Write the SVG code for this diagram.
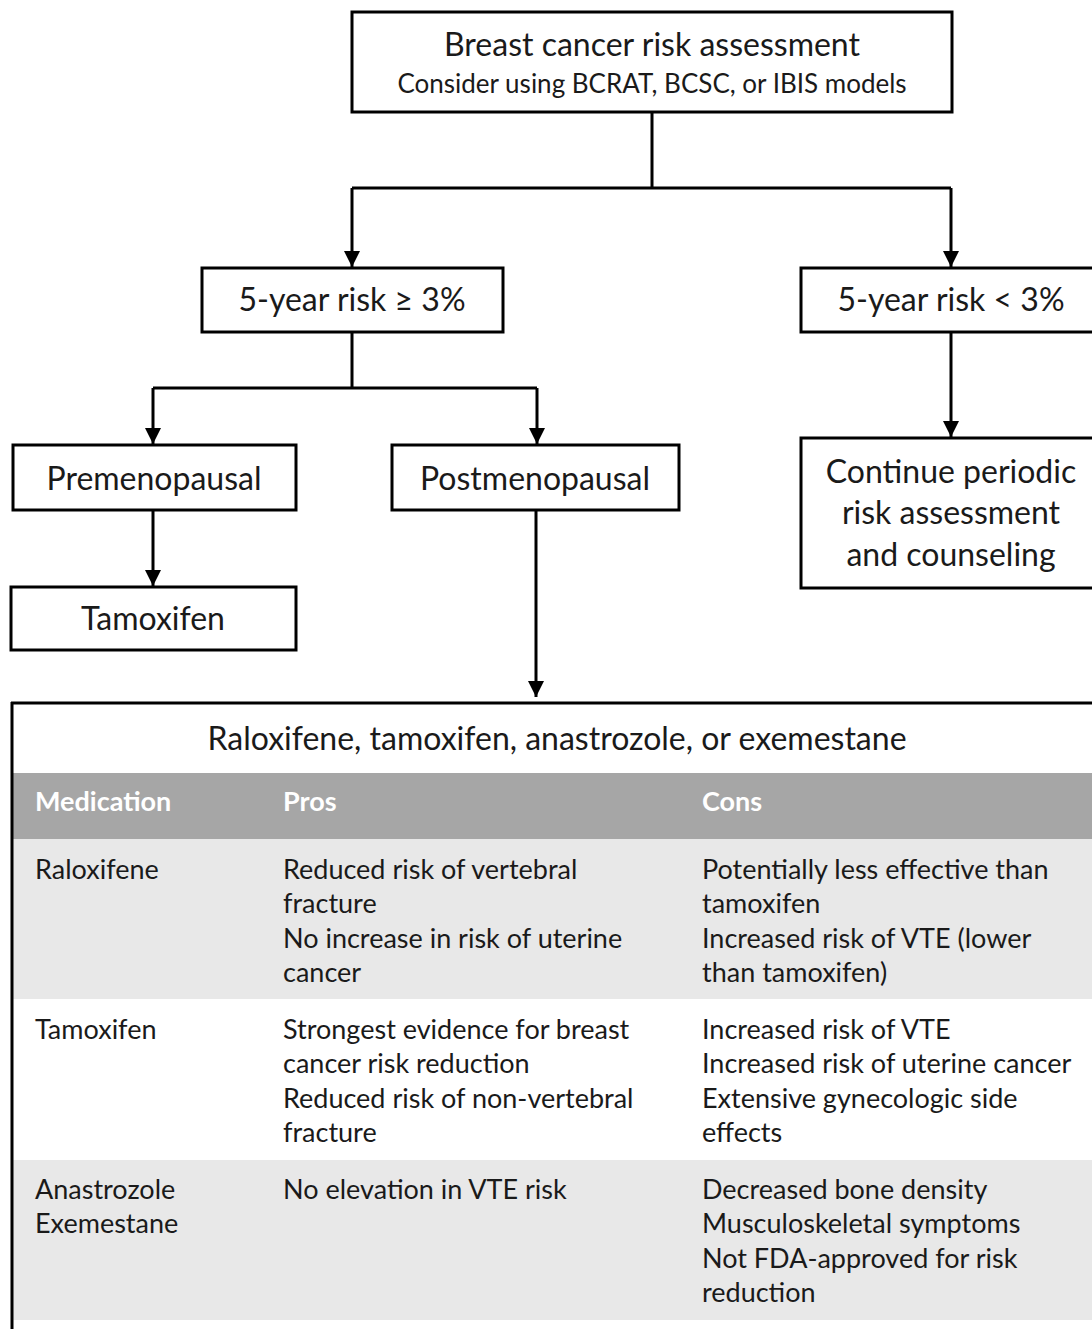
<svg xmlns="http://www.w3.org/2000/svg" width="1092" height="1329" viewBox="0 0 1092 1329">
<style>
.box{fill:#fff;stroke:#000;stroke-width:3}
.t{font-family:Lato,"Open Sans",sans-serif;fill:#1a1a1a}
.big{font-size:32px}
.mid{font-size:26px}
.cell{font-size:27px}
.hdr{font-size:27px;font-weight:bold;fill:#fff}
.conn{fill:none;stroke:#000;stroke-width:3}
</style>
<defs>
<marker id="ah" markerUnits="userSpaceOnUse" markerWidth="16" markerHeight="16" viewBox="0 0 16 16" refX="16" refY="8" orient="auto">
<path d="M0,0 L16,8 L0,16 Z" fill="#000"/>
</marker>
</defs>
<rect width="1092" height="1329" fill="#fff"/>
<g id="connectors">
<path class="conn" d="M652,112 V188 M352,188 H951"/>
<path class="conn" d="M352,188 V267" marker-end="url(#ah)"/>
<path class="conn" d="M951,188 V267" marker-end="url(#ah)"/>
<path class="conn" d="M352,332 V388 M153,388 H537"/>
<path class="conn" d="M153,388 V444" marker-end="url(#ah)"/>
<path class="conn" d="M537,388 V444" marker-end="url(#ah)"/>
<path class="conn" d="M153,510 V586" marker-end="url(#ah)"/>
<path class="conn" d="M536,510 V697" marker-end="url(#ah)"/>
<path class="conn" d="M951,332 V437" marker-end="url(#ah)"/>
</g>
<g id="assessment">
<rect class="box" x="352" y="12" width="600" height="100"/>
<text class="t big" x="652" y="56" text-anchor="middle">Breast cancer risk assessment</text>
<text class="t mid" x="652" y="93" text-anchor="middle">Consider using BCRAT, BCSC, or IBIS models</text>
</g>
<g id="high-risk">
<rect class="box" x="202" y="268" width="301" height="64"/>
<text class="t big" x="352" y="311" text-anchor="middle">5-year risk ≥ 3%</text>
</g>
<g id="low-risk">
<rect class="box" x="801" y="268" width="300" height="64"/>
<text class="t big" x="951" y="311" text-anchor="middle">5-year risk &lt; 3%</text>
</g>
<g id="premenopausal">
<rect class="box" x="13" y="445" width="283" height="65"/>
<text class="t big" x="154" y="490" text-anchor="middle">Premenopausal</text>
</g>
<g id="postmenopausal">
<rect class="box" x="392" y="445" width="287" height="65"/>
<text class="t big" x="535" y="490" text-anchor="middle">Postmenopausal</text>
</g>
<g id="tamoxifen">
<rect class="box" x="11" y="587" width="285" height="63"/>
<text class="t big" x="153" y="630" text-anchor="middle">Tamoxifen</text>
</g>
<g id="continue">
<rect class="box" x="801" y="438" width="300" height="150"/>
<text class="t big" x="951" y="483" text-anchor="middle">Continue periodic</text>
<text class="t big" x="951" y="524" text-anchor="middle">risk assessment</text>
<text class="t big" x="951" y="566" text-anchor="middle">and counseling</text>
</g>
<g id="table">
<rect x="13" y="773" width="1079" height="66" fill="#a6a6a6"/>
<rect x="13" y="839" width="1079" height="160" fill="#e8e8e8"/>
<rect x="13" y="1160" width="1079" height="160" fill="#e8e8e8"/>
<path d="M11,703 H1092 M12,702 V1329" fill="none" stroke="#000" stroke-width="3"/>
<text class="t big" x="557" y="750" text-anchor="middle">Raloxifene, tamoxifen, anastrozole, or exemestane</text>
<text class="t hdr" x="35" y="811">Medication</text>
<text class="t hdr" x="283" y="811">Pros</text>
<text class="t hdr" x="702" y="811">Cons</text>
<text class="t cell" x="35" y="879">Raloxifene</text>
<text class="t cell" x="283" y="879">Reduced risk of vertebral</text>
<text class="t cell" x="283" y="913">fracture</text>
<text class="t cell" x="283" y="948">No increase in risk of uterine</text>
<text class="t cell" x="283" y="982">cancer</text>
<text class="t cell" x="702" y="879">Potentially less effective than</text>
<text class="t cell" x="702" y="913">tamoxifen</text>
<text class="t cell" x="702" y="948">Increased risk of VTE (lower</text>
<text class="t cell" x="702" y="982">than tamoxifen)</text>
<text class="t cell" x="35" y="1039">Tamoxifen</text>
<text class="t cell" x="283" y="1039">Strongest evidence for breast</text>
<text class="t cell" x="283" y="1073">cancer risk reduction</text>
<text class="t cell" x="283" y="1108">Reduced risk of non-vertebral</text>
<text class="t cell" x="283" y="1142">fracture</text>
<text class="t cell" x="702" y="1039">Increased risk of VTE</text>
<text class="t cell" x="702" y="1073">Increased risk of uterine cancer</text>
<text class="t cell" x="702" y="1108">Extensive gynecologic side</text>
<text class="t cell" x="702" y="1142">effects</text>
<text class="t cell" x="35" y="1199">Anastrozole</text>
<text class="t cell" x="35" y="1233">Exemestane</text>
<text class="t cell" x="283" y="1199">No elevation in VTE risk</text>
<text class="t cell" x="702" y="1199">Decreased bone density</text>
<text class="t cell" x="702" y="1233">Musculoskeletal symptoms</text>
<text class="t cell" x="702" y="1268">Not FDA-approved for risk</text>
<text class="t cell" x="702" y="1302">reduction</text>
</g>
</svg>
